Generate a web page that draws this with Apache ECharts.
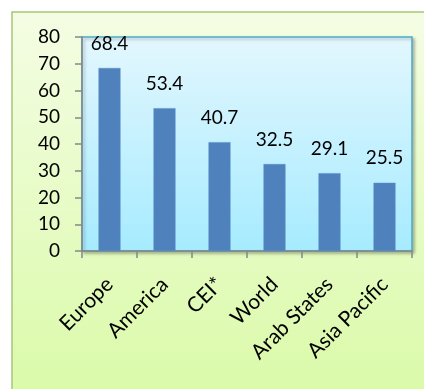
<!DOCTYPE html>
<html><head><meta charset="utf-8">
<script src="https://cdn.jsdelivr.net/npm/echarts@6/dist/echarts.min.js"></script>
<style>html,body{margin:0;padding:0;background:#fff}#c{width:424px;height:389px}</style>
</head><body><div id="c"></div>
<script>
const categories = ['Europe', 'America', 'CEI*', 'World', 'Arab States', 'Asia Pacific'];
const values = [68.4, 53.4, 40.7, 32.5, 29.1, 25.5];
const yTicks = [0, 10, 20, 30, 40, 50, 60, 70, 80];

const chart = echarts.init(document.getElementById('c'), null, {renderer: 'canvas'});
const FONT = 'Lato';
chart.setOption({
  animation: false,
  backgroundColor: '#ffffff',
  graphic: [{
    type: 'rect', z: -10, silent: true,
    shape: {x: 12, y: 12, width: 430, height: 400},
    style: {
      fill: new echarts.graphic.LinearGradient(0, 0, 0, 1, [
        {offset: 0, color: '#F4FDE4'}, {offset: 1, color: '#D9FAA6'}]),
      stroke: '#A9C57A', lineWidth: 1.5
    }
  }],
  grid: {
    left: 82, top: 37, right: 12, bottom: 138,
    show: true, borderColor: '#4BACC6', borderWidth: 1.5,
    backgroundColor: new echarts.graphic.LinearGradient(0, 0, 0, 1, [
      {offset: 0, color: '#E3F7FE'}, {offset: 1, color: '#A6EBFF'}]),
    shadowColor: 'rgba(0,0,0,0.25)', shadowBlur: 3, shadowOffsetX: 2, shadowOffsetY: 2
  },
  xAxis: {
    type: 'category', data: categories,
    axisLine: {show: true, lineStyle: {color: '#878787', width: 1.5}},
    axisTick: {show: true, length: 7, alignWithLabel: false, lineStyle: {color: '#878787', width: 1.5}},
    axisLabel: {rotate: 45, fontFamily: FONT, fontSize: 21, color: '#000', margin: 30, interval: 0},
    splitLine: {show: false}
  },
  yAxis: {
    type: 'value', min: yTicks[0], max: yTicks[yTicks.length - 1], interval: 10,
    axisLine: {show: true, lineStyle: {color: '#878787', width: 1.5}},
    axisTick: {show: true, length: 7, lineStyle: {color: '#878787', width: 1.5}},
    axisLabel: {fontFamily: FONT, fontSize: 19, color: '#000', margin: 22},
    splitLine: {show: false}
  },
  series: [{
    type: 'bar', data: values, barWidth: 22,
    itemStyle: {color: '#4F81BD', borderColor: '#5B8FCB', borderWidth: 0.5},
    label: {show: true, position: 'top', distance: 15, fontFamily: FONT, fontSize: 19, color: '#000'}
  }]
});
</script></body></html>
